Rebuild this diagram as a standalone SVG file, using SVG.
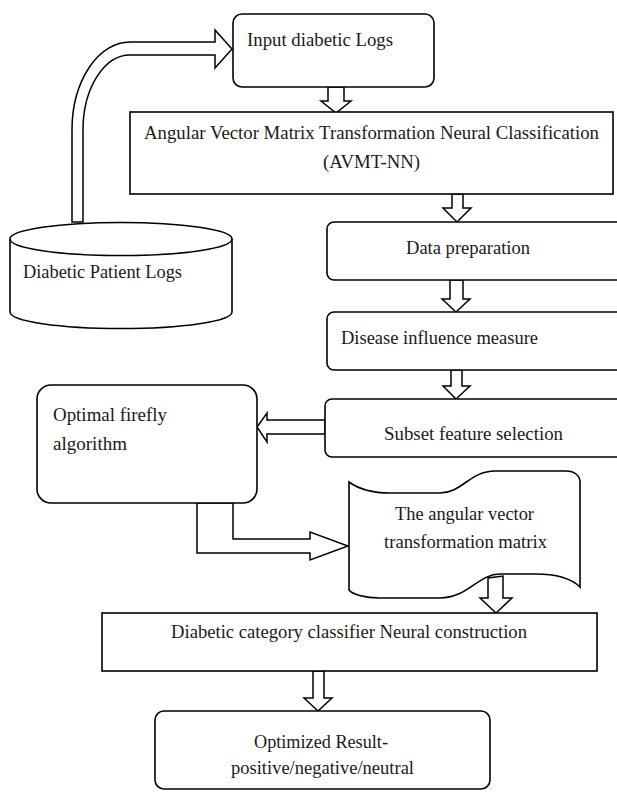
<svg xmlns="http://www.w3.org/2000/svg" width="617" height="792" viewBox="0 0 617 792">
<style>
.box{fill:#fff;stroke:#000;stroke-width:1.6}
.arr{fill:#fff;stroke:#000;stroke-width:1.5;stroke-linejoin:miter}
text{font-family:"Liberation Serif","Times New Roman",serif;font-size:19.5px;fill:#1a1a1a}
</style>
<rect width="617" height="792" fill="#fff"/>
<g id="connectors">
<path class="arr" d="M72 222 L72 130 A58 88 0 0 1 130 42 L215 42 L215 30 L232 49 L215 68 L215 55 L130 55 A47 75 0 0 0 83 130 L83 222 Z"/>
<path class="arr" d="M328 87 L328 101 L321 101 L336 113 L351 101 L344 101 L344 87 Z"/>
<path class="arr" d="M452 194 L452 208 L443 208 L457 222 L471 208 L463 208 L463 194 Z"/>
<path class="arr" d="M450 280 L450 299 L442 299 L456 312 L470 299 L463 299 L463 280 Z"/>
<path class="arr" d="M451 370 L451 386 L443 386 L456 399 L470 386 L462 386 L462 370 Z"/>
<path class="arr" d="M325 420 L267 420 L267 413 L257 427 L267 442 L267 434 L325 434 Z"/>
<path class="arr" d="M197 503 L197 553 L310 553 L310 560 L348 546 L310 532 L310 539 L233 539 L233 503 Z"/>
<path class="arr" d="M488 578 L488 598 L480 598 L496 613 L512 598 L503 598 L503 576 Z"/>
<path class="arr" d="M313 671 L313 698 L304 698 L318 711 L332 698 L324 698 L324 671 Z"/>
</g>
<g id="cylinder">
<path class="box" d="M10 239 L10 312 A111 16.5 0 0 0 232 312 L232 239"/>
<ellipse class="box" cx="121" cy="239" rx="111" ry="16.5"/>
<text x="23" y="278" textLength="159" lengthAdjust="spacingAndGlyphs">Diabetic Patient Logs</text>
</g>
<g id="input">
<rect class="box" x="233" y="14" width="201" height="73" rx="9"/>
<text x="247" y="46" textLength="146" lengthAdjust="spacingAndGlyphs">Input diabetic Logs</text>
</g>
<g id="avmt">
<rect class="box" x="130" y="112" width="483" height="82"/>
<text x="144" y="139" textLength="455" lengthAdjust="spacingAndGlyphs">Angular Vector Matrix Transformation Neural Classification</text>
<text x="323" y="168" textLength="97" lengthAdjust="spacingAndGlyphs">(AVMT-NN)</text>
</g>
<g id="dataprep">
<rect class="box" x="327" y="222" width="300" height="58" rx="7"/>
<text x="406" y="254" textLength="124" lengthAdjust="spacingAndGlyphs">Data preparation</text>
</g>
<g id="disease">
<rect class="box" x="327" y="312" width="300" height="58" rx="7"/>
<text x="341" y="344" textLength="197" lengthAdjust="spacingAndGlyphs">Disease influence measure</text>
</g>
<g id="subset">
<rect class="box" x="325" y="399" width="300" height="58" rx="7"/>
<text x="384" y="440" textLength="179" lengthAdjust="spacingAndGlyphs">Subset feature selection</text>
</g>
<g id="firefly">
<rect class="box" x="37" y="385" width="220" height="118" rx="14"/>
<text x="53" y="421" textLength="114" lengthAdjust="spacingAndGlyphs">Optimal firefly</text>
<text x="53" y="450" textLength="74" lengthAdjust="spacingAndGlyphs">algorithm</text>
</g>
<g id="matrix">
<path class="box" d="M349 482 C360 490 372 493 390 493 L440 493 C462 493 470 471 495 471 L566 471 C575 471 580 476 580 482 L580 587 C572 579 556 574 535 574 L500 574 C478 574 468 598 440 598 L380 598 C364 598 352 594 349 590 Z"/>
<text x="395" y="520" textLength="139" lengthAdjust="spacingAndGlyphs">The angular vector</text>
<text x="384" y="548" textLength="163" lengthAdjust="spacingAndGlyphs">transformation matrix</text>
</g>
<g id="classifier">
<rect class="box" x="102" y="613" width="495" height="58"/>
<text x="171" y="638" textLength="356" lengthAdjust="spacingAndGlyphs">Diabetic category classifier Neural construction</text>
</g>
<g id="result">
<rect class="box" x="155" y="711" width="335" height="78" rx="9"/>
<text x="254" y="748" textLength="134" lengthAdjust="spacingAndGlyphs">Optimized Result-</text>
<text x="231" y="774" textLength="183" lengthAdjust="spacingAndGlyphs">positive/negative/neutral</text>
</g>
</svg>
